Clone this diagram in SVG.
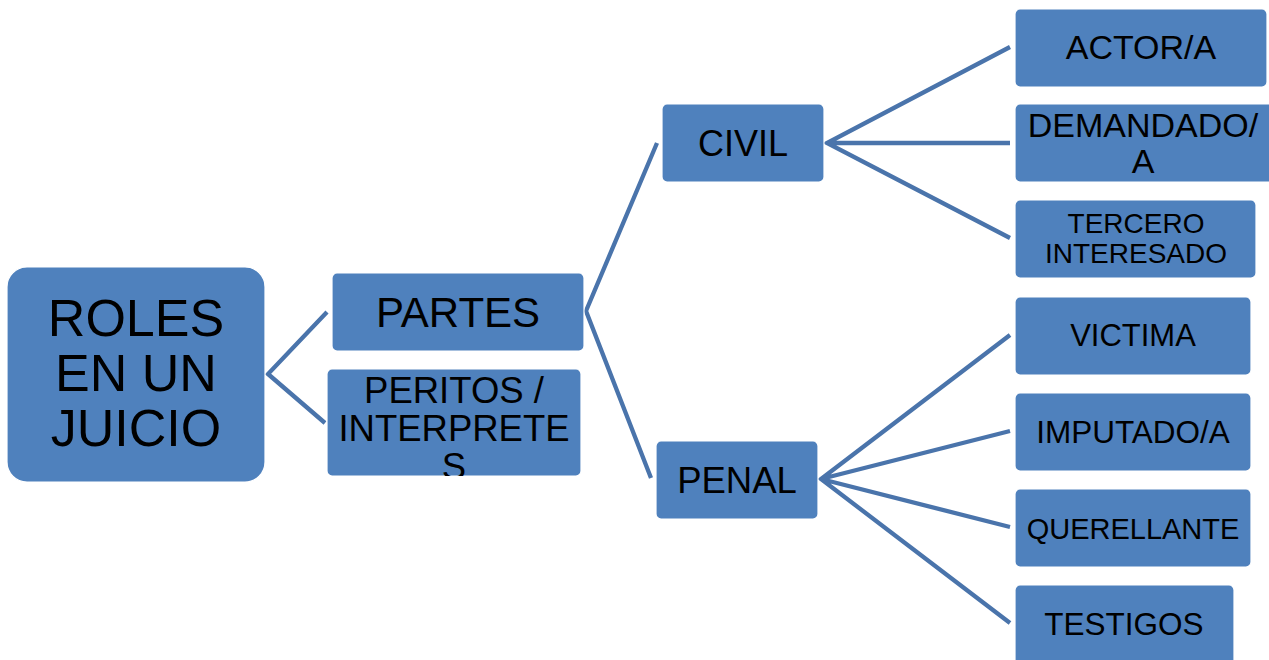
<svg xmlns="http://www.w3.org/2000/svg" width="1269" height="660" viewBox="0 0 1269 660">
<style>
.box{fill:#4f81bd;stroke:#ffffff;stroke-width:1.2}
.t{font-family:"Liberation Sans",Arial,sans-serif;fill:#000;text-anchor:middle}
.c{stroke:#4a74ab;stroke-width:4.3;fill:none;stroke-linejoin:miter}
</style>
<defs>
<clipPath id="clipPer"><rect x="327" y="369" width="254" height="107" rx="5"/></clipPath>
</defs>
<rect width="1269" height="660" fill="#fff"/>
<g id="connectors">
<polyline class="c" points="327,312 268,374 325,423"/>
<polyline class="c" points="657,143 586,311 651,478"/>
<path class="c" d="M1010,47 L827,143 L1010,238 M827,143 L1010,143"/>
<path class="c" d="M1010,335 L821,479 L1010,623 M1010,431 L821,479 L1010,527"/>
</g>
<g id="roles">
<rect class="box" x="7" y="267" width="258" height="215" rx="20"/>
<text class="t" font-size="52" x="136" y="336">ROLES</text>
<text class="t" font-size="52" x="136" y="391">EN UN</text>
<text class="t" font-size="52" x="136" y="446">JUICIO</text>
</g>
<g id="partes">
<rect class="box" x="332" y="273" width="252" height="78" rx="5"/>
<text class="t" font-size="42" x="458" y="327">PARTES</text>
</g>
<g id="peritos">
<rect class="box" x="327" y="369" width="254" height="107" rx="5"/>
<g clip-path="url(#clipPer)">
<text class="t" font-size="36.5" x="454" y="403">PERITOS /</text>
<text class="t" font-size="36.5" x="454" y="441">INTERPRETE</text>
<text class="t" font-size="36.5" x="454" y="479">S</text>
</g>
</g>
<g id="civil">
<rect class="box" x="662" y="104" width="162" height="78" rx="5"/>
<text class="t" font-size="36" x="743" y="156">CIVIL</text>
</g>
<g id="penal">
<rect class="box" x="656" y="441" width="162" height="78" rx="5"/>
<text class="t" font-size="36.5" x="737" y="493">PENAL</text>
</g>
<g id="actor">
<rect class="box" x="1015" y="9" width="252" height="78" rx="5"/>
<text class="t" font-size="34" x="1141" y="59">ACTOR/A</text>
</g>
<g id="demandado">
<rect class="box" x="1015" y="104" width="262" height="78" rx="5"/>
<text class="t" font-size="34" x="1143" y="137">DEMANDADO/</text>
<text class="t" font-size="34" x="1143" y="173">A</text>
</g>
<g id="tercero">
<rect class="box" x="1015" y="200" width="241" height="78" rx="5"/>
<text class="t" font-size="28" x="1136" y="233">TERCERO</text>
<text class="t" font-size="28" x="1136" y="263">INTERESADO</text>
</g>
<g id="victima">
<rect class="box" x="1015" y="297" width="236" height="78" rx="5"/>
<text class="t" font-size="31" x="1133" y="346">VICTIMA</text>
</g>
<g id="imputado">
<rect class="box" x="1015" y="393" width="236" height="78" rx="5"/>
<text class="t" font-size="31.5" x="1133" y="443">IMPUTADO/A</text>
</g>
<g id="querellante">
<rect class="box" x="1015" y="489" width="236" height="78" rx="5"/>
<text class="t" font-size="29" x="1133" y="539">QUERELLANTE</text>
</g>
<g id="testigos">
<rect class="box" x="1015" y="585" width="219" height="85" rx="5"/>
<text class="t" font-size="31.5" x="1124" y="635">TESTIGOS</text>
</g>
</svg>
